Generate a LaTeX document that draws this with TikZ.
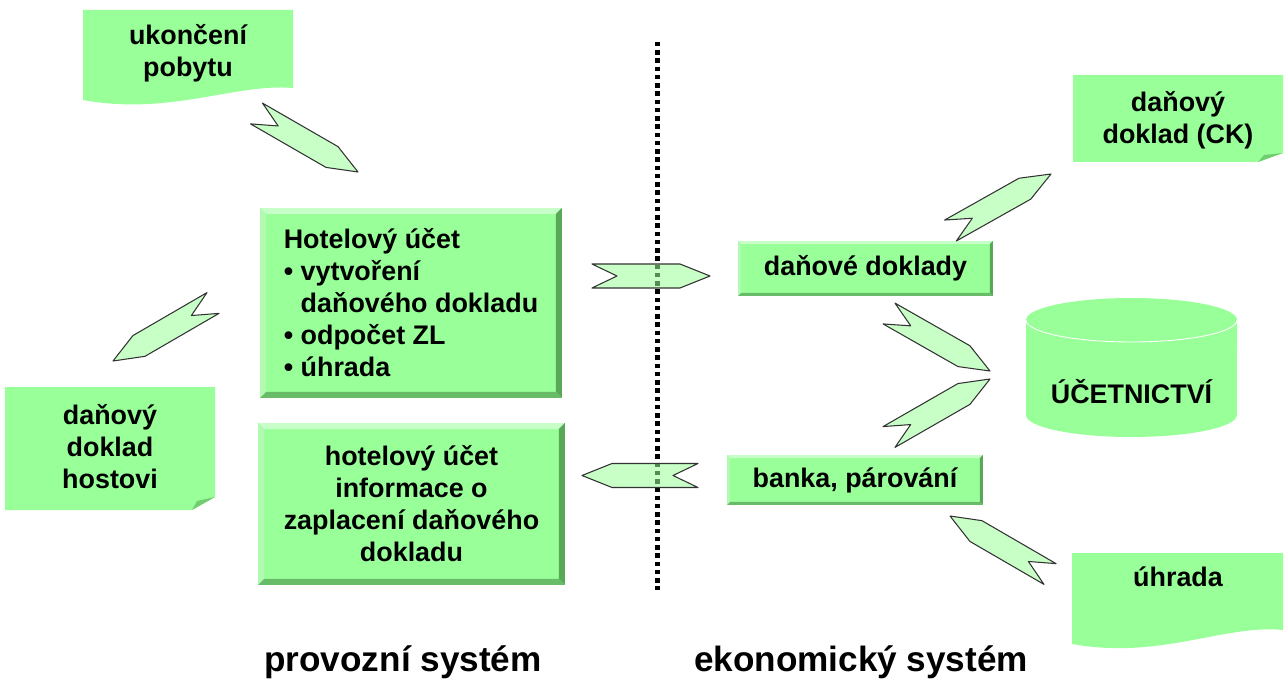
\documentclass[tikz,border=0pt]{standalone}
\usepackage{fontspec}
\setmainfont{Liberation Sans}
\usepackage{tikz}
\usetikzlibrary{calc}
\definecolor{cFace}{RGB}{153,255,153}
\definecolor{cTop}{RGB}{200,255,200}
\definecolor{cLeft}{RGB}{178,250,178}
\definecolor{cRight}{RGB}{88,168,88}
\definecolor{cBottom}{RGB}{104,188,104}
\definecolor{cFold}{RGB}{112,206,112}
\newcommand{\dfont}{\fontsize{15.3}{18.2}\selectfont\bfseries}
\tikzset{
	bevelbox/.style={rectangle, fill=cFace, inner sep=0pt, align=center, path picture={
		\fill[cTop] (path picture bounding box.north west) -- (path picture bounding box.north east) -- ++(-#1,-#1) -- ([shift={(#1,-#1)}]path picture bounding box.north west) -- cycle;
		\fill[cLeft] (path picture bounding box.north west) -- (path picture bounding box.south west) -- ++(#1,#1) -- ([shift={(#1,-#1)}]path picture bounding box.north west) -- cycle;
		\fill[cRight] (path picture bounding box.north east) -- (path picture bounding box.south east) -- ++(-#1,#1) -- ([shift={(-#1,-#1)}]path picture bounding box.north east) -- cycle;
		\fill[cBottom] (path picture bounding box.south west) -- (path picture bounding box.south east) -- ++(-#1,#1) -- ([shift={(#1,#1)}]path picture bounding box.south west) -- cycle;}},
	docshape/.style={fill=cFace},
	foldtri/.style={fill=cFold},
	lbl/.style={align=center, inner sep=0pt},
	blkarrow/.style={fill=cFace, fill opacity=0.55, draw=black!80, line width=0.6pt, line join=round},
	sepline/.style={line width=0.1cm, dash pattern=on 0.09cm off 0.075cm},
}
% block arrow from tail centre #1 to tip #2
\newcommand{\blockarrow}[2]{%
	\draw[blkarrow] ($(#1)!0.24cm!90:(#2)$) -- ($(#2)!0.6cm!(#1)!0.24cm!-90:(#1)$) -- (#2)
		-- ($(#2)!0.6cm!(#1)!0.24cm!90:(#1)$) -- ($(#1)!0.24cm!-90:(#2)$) -- ($(#1)!0.5cm!(#2)$) -- cycle;}
\begin{document}
\begin{tikzpicture}[x=0.02cm, y=-0.02cm, every node/.style={font=\dfont}]
	\useasboundingbox (0,0) rectangle (1285,682);
	% documents
	\fill[docshape] (83,10) -- (293,10) -- (293,88) .. controls (235,83) and (170,116) .. (83,100) -- cycle;
	\node[lbl] (ukon) at (188,53) {ukončení\\pobytu};
	\fill[docshape] (5,387) -- (215,387) -- (215,497) -- (192,510) -- (5,510) -- cycle;
	\fill[foldtri] (215,497) -- (192,510) -- (197,501) -- cycle;
	\node[lbl] (host) at (110,447) {daňový\\doklad\\hostovi};
	\fill[docshape] (1073,75) -- (1283,75) -- (1283,153) -- (1258,162) -- (1073,162) -- cycle;
	\fill[foldtri] (1283,153) -- (1258,162) -- (1264,155) -- cycle;
	\node[lbl] (ck) at (1178,120) {daňový\\doklad (CK)};
	\fill[docshape] (1072,553) -- (1283,553) -- (1283,630) .. controls (1225,624) and (1160,660) .. (1072,644) -- cycle;
	\node[lbl] (uhr) at (1178,577) {úhrada};
	% database
	\fill[cFace] (1026,320) -- (1026,415) arc[start angle=180, end angle=360, x radius=2.11cm, y radius=0.44cm]
		-- (1237,320) arc[start angle=0, end angle=180, x radius=2.11cm, y radius=0.44cm] -- cycle;
	\draw[white, line width=0.5pt] (1026,320) arc[start angle=180, end angle=360, x radius=2.11cm, y radius=0.44cm];
	\node[lbl] (ucto) at (1131.5,392) {ÚČETNICTVÍ};
	% boxes
	\node[bevelbox=0.12cm, minimum width=6.04cm, minimum height=3.8cm, align=left] (hotel) at (411,303)
		{Hotelový účet\\• vytvoření\\\phantom{•~}daňového dokladu\\• odpočet ZL\\• úhrada};
	\node[bevelbox=0.12cm, minimum width=6.14cm, minimum height=3.24cm] (hinfo) at (411.5,504)
		{hotelový účet\\informace o\\zaplacení daňového\\dokladu};
	\node[bevelbox=0.06cm, minimum width=5.1cm, minimum height=1.1cm] (dane) at (865.5,268.5) {daňové doklady};
	\node[bevelbox=0.06cm, minimum width=5.12cm, minimum height=1.0cm] (banka) at (855,480) {banka, párování};
	% separator
	\coordinate (septop) at (657,42);
	\coordinate (sepbot) at (657,590);
	\draw[sepline] (septop) -- (sepbot);
	% arrow ends
	\coordinate (a1t) at (256.5,113.5); \coordinate (a1h) at (358,172);
	\coordinate (a2t) at (592,276);     \coordinate (a2h) at (710,276);
	\coordinate (a3t) at (213,303);     \coordinate (a3h) at (113,361);
	\coordinate (a4t) at (698,475.5);   \coordinate (a4h) at (582,475.5);
	\coordinate (a5t) at (950.5,230.5); \coordinate (a5h) at (1051,174);
	\coordinate (a6t) at (889,313.5);   \coordinate (a6h) at (990,371);
	\coordinate (a7t) at (889,437);     \coordinate (a7h) at (990,379);
	\coordinate (a8t) at (1050,574);    \coordinate (a8h) at (950,516);
	\foreach \a in {a1,a2,a3,a4,a5,a6,a7,a8} {\blockarrow{\a t}{\a h}}
	% captions
	\node[font=\fontsize{20}{24}\selectfont\bfseries] (prov) at (403,662) {provozní systém};
	\node[font=\fontsize{20}{24}\selectfont\bfseries] (ekon) at (861,662) {ekonomický systém};
\end{tikzpicture}
\end{document}
